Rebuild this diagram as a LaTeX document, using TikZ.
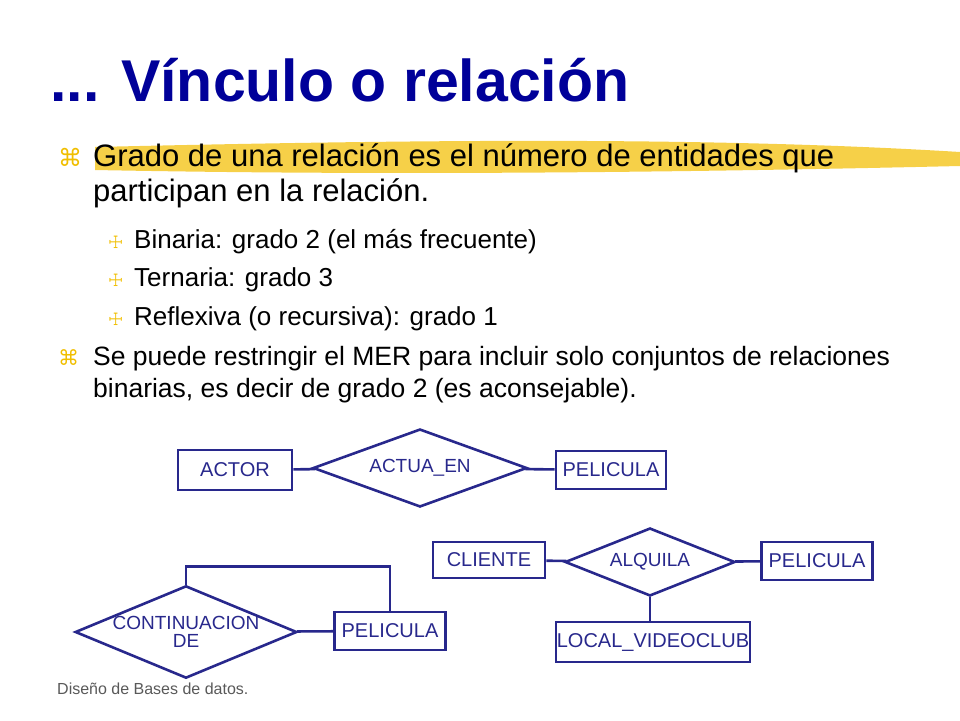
\documentclass[tikz,border=0pt]{standalone}
\usepackage{fontspec}
\setmainfont{Liberation Sans}
\newfontfamily\symfont{DejaVu Sans}
\usetikzlibrary{shapes,shapes.geometric,positioning}
\definecolor{titulo}{RGB}{0,0,153}
\definecolor{erazul}{RGB}{40,40,140}
\definecolor{vineta}{RGB}{240,190,0}
\definecolor{resalte}{RGB}{245,200,40}
\tikzset{
	entidad/.style={draw=erazul,line width=2.6pt,text=erazul,rectangle,inner sep=0pt,font=\fontsize{20}{22}\selectfont},
	relacion/.style={draw=erazul,line width=2.6pt,text=erazul,diamond,aspect=2,inner sep=0pt,align=center,font=\fontsize{19}{18}\selectfont},
	linea/.style={draw=erazul,line width=2.6pt},
	texto/.style={anchor=base west,inner sep=0pt}
}
\begin{document}
\begin{tikzpicture}[x=1pt,y=-1pt]
			\useasboundingbox (0,0) rectangle (960,720);
			% resaltado amarillo
			\fill[resalte,opacity=0.85] (95,147) .. controls (400,140) and (700,136) .. (960,152)
			-- (960,166) .. controls (700,172) and (400,176) .. (95,170) -- cycle;
			% titulo
			\node[texto,text=titulo,font=\fontsize{59}{64}\bfseries\selectfont] (tit) at (50,101) {... Vínculo o relación};
			% viñetas
			\node[texto,text=vineta,font=\symfont\fontsize{24}{26}\selectfont] (v1) at (58,166) {⌘};
			\node[texto,font=\fontsize{31}{34}\selectfont] (l1) at (93,166) {Grado de una relación es el número de entidades que};
			\node[texto,font=\fontsize{31}{34}\selectfont] (l2) at (93,201) {participan en la relación.};
			\node[texto,text=vineta,font=\symfont\fontsize{17}{20}\selectfont] (v2) at (108,248) {☩};
			\node[texto,font=\fontsize{26}{28}\selectfont] (l3) at (134,248) {Binaria: grado 2 (el más frecuente)};
			\node[texto,text=vineta,font=\symfont\fontsize{17}{20}\selectfont] (v3) at (108,286) {☩};
			\node[texto,font=\fontsize{26}{28}\selectfont] (l4) at (134,286) {Ternaria: grado 3};
			\node[texto,text=vineta,font=\symfont\fontsize{17}{20}\selectfont] (v4) at (108,325) {☩};
			\node[texto,font=\fontsize{26}{28}\selectfont] (l5) at (134,325) {Reflexiva (o recursiva): grado 1};
			\node[texto,text=vineta,font=\symfont\fontsize{21}{22}\selectfont] (v5) at (58,365) {⌘};
			\node[texto,font=\fontsize{26.5}{30}\selectfont] (l6) at (93,365) {Se puede restringir el MER para incluir solo conjuntos de relaciones};
			\node[texto,font=\fontsize{26.5}{30}\selectfont] (l7) at (93,397) {binarias, es decir de grado 2 (es aconsejable).};
			% diagramas
			\node[entidad,minimum width=114pt,minimum height=40pt] (actor) at (235,470) {ACTOR};
			\node[relacion,minimum width=214pt,minimum height=78pt] (actua) at (420,468) {ACTUA\_EN};
			\node[entidad,minimum width=110pt,minimum height=38pt] (peli1) at (611,470) {PELICULA};
			\draw[linea] (actor) -- (actua);
			\draw[linea] (actua) -- (peli1);
			\node[entidad,minimum width=112pt,minimum height=36pt] (cliente) at (489,560) {CLIENTE};
			\node[relacion,minimum width=170pt,minimum height=68pt] (alquila) at (650,562) {ALQUILA};
			\node[entidad,minimum width=111pt,minimum height=38pt] (peli2) at (817,561) {PELICULA};
			\node[entidad,minimum width=194pt,minimum height=40pt] (local) at (653,642) {LOCAL\_VIDEOCLUB};
			\draw[linea] (cliente) -- (alquila);
			\draw[linea] (alquila) -- (peli2);
			\draw[linea] (alquila) -- (alquila|-local.north);
			\node[relacion,aspect=2.4,minimum width=212pt,minimum height=75pt] (contin) at (186,632) {CONTINUACION\\DE};
			\node[entidad,minimum width=111pt,minimum height=38pt] (peli3) at (390,631) {PELICULA};
			\draw[linea] (contin) -- (peli3);
			\draw[linea] (contin.north) -- ++(0,-18) -| (peli3.north);
			% pie
			\node[texto,text=black!65,font=\fontsize{16}{18}\selectfont] (pie) at (57,694) {Diseño de Bases de datos.};
		\end{tikzpicture}
\end{document}
